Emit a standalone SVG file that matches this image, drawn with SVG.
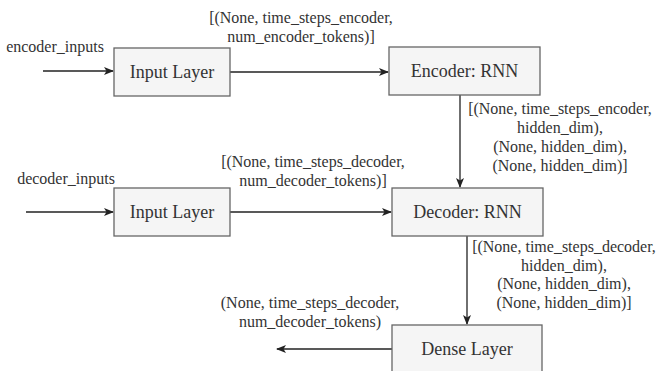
<svg xmlns="http://www.w3.org/2000/svg" width="656" height="371" viewBox="0 0 656 371">
<style>
.box{fill:#f5f5f5;stroke:#666;stroke-width:1.3}
.nt{font-family:"Liberation Serif",serif;font-size:18px;fill:#333;text-anchor:middle}
.lb{font-family:"Liberation Serif",serif;font-size:16px;fill:#333;text-anchor:middle}
.ln{fill:none;stroke:#222;stroke-width:1.3}
</style>
<defs>
<marker id="ah" viewBox="0 0 10 10" refX="9" refY="5" markerWidth="10" markerHeight="10" markerUnits="userSpaceOnUse" orient="auto">
<path d="M0,1 L10,5 L0,9 L2.5,5 Z" fill="#222"/>
</marker>
</defs>
<rect width="656" height="371" fill="#fff"/>
<g id="connectors">
<line class="ln" x1="43" y1="71" x2="113" y2="71" marker-end="url(#ah)"/>
<line class="ln" x1="230" y1="72" x2="388" y2="72" marker-end="url(#ah)"/>
<line class="ln" x1="460" y1="95" x2="460" y2="187" marker-end="url(#ah)"/>
<line class="ln" x1="26" y1="212" x2="113" y2="212" marker-end="url(#ah)"/>
<line class="ln" x1="230" y1="212" x2="391" y2="212" marker-end="url(#ah)"/>
<line class="ln" x1="467" y1="236" x2="467" y2="324" marker-end="url(#ah)"/>
<line class="ln" x1="392" y1="349" x2="277" y2="349" marker-end="url(#ah)"/>
</g>
<g id="labels">
<text class="lb" x="55" y="52">encoder_inputs</text>
<text class="lb" x="301" y="23">[(None, time_steps_encoder,</text>
<text class="lb" x="301" y="42">num_encoder_tokens)]</text>
<text class="lb" x="560" y="114">[(None, time_steps_encoder,</text>
<text class="lb" x="560" y="133">hidden_dim),</text>
<text class="lb" x="560" y="152">(None, hidden_dim),</text>
<text class="lb" x="560" y="171">(None, hidden_dim)]</text>
<text class="lb" x="66" y="184">decoder_inputs</text>
<text class="lb" x="313" y="167">[(None, time_steps_decoder,</text>
<text class="lb" x="313" y="186">num_decoder_tokens)]</text>
<text class="lb" x="564" y="252">[(None, time_steps_decoder,</text>
<text class="lb" x="564" y="271">hidden_dim),</text>
<text class="lb" x="564" y="289">(None, hidden_dim),</text>
<text class="lb" x="564" y="308">(None, hidden_dim)]</text>
<text class="lb" x="310" y="308">(None, time_steps_decoder,</text>
<text class="lb" x="310" y="327">num_decoder_tokens)</text>
</g>
<g id="input1"><rect class="box" x="114" y="48" width="116" height="48"/><text class="nt" x="172" y="78">Input Layer</text></g>
<g id="encoder"><rect class="box" x="389" y="47" width="151" height="48"/><text class="nt" x="464.5" y="77">Encoder: RNN</text></g>
<g id="input2"><rect class="box" x="114" y="188" width="116" height="48"/><text class="nt" x="172" y="218">Input Layer</text></g>
<g id="decoder"><rect class="box" x="392" y="188" width="151" height="48"/><text class="nt" x="467.5" y="218">Decoder: RNN</text></g>
<g id="dense"><rect class="box" x="392" y="325" width="150" height="50"/><text class="nt" x="467" y="355">Dense Layer</text></g>
</svg>
